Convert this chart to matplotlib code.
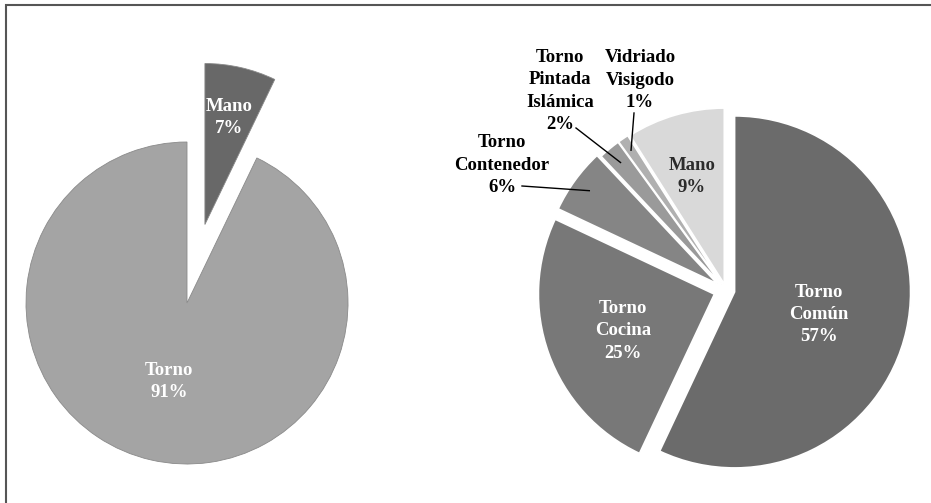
import numpy as np
import matplotlib
matplotlib.use("Agg")
import matplotlib.pyplot as plt
from matplotlib.patches import Rectangle

# left pie: forma de fabricación
left_labels = ["Mano", "Torno"]
left_pct = [7, 91]
left_colors = ["#686868", "#a4a4a4"]
left_explode = [0.5, 0.0]

# right pie: grupos cerámicos
right_labels = ["Torno\nComún", "Torno\nCocina", "Torno\nContenedor",
                "Torno\nPintada\nIslámica", "Vidriado\nVisigodo", "Mano"]
right_pct = [57, 25, 6, 2, 1, 9]
right_colors = ["#6b6b6b", "#787878", "#858585", "#9a9a9a", "#b0b0b0", "#d9d9d9"]
right_explode = [0.05, 0.07, 0.06, 0.04, 0.04, 0.035]

W, H = 931, 503
fig = plt.figure(figsize=(W / 100, H / 100), dpi=100)
ax = fig.add_axes([0, 0, 1, 1])

font = dict(family="Liberation Serif", fontweight="bold", fontsize=13.5,
            ha="center", va="center", linespacing=1.4)


def mid_dir(w):
    a = np.deg2rad((w.theta1 + w.theta2) / 2)
    return np.cos(a), np.sin(a)


# ---- left pie (explode given as fraction of radius)
lc, lr = (187, H - 303), 161
lw, _ = ax.pie(left_pct, colors=left_colors,
               explode=[e * lr for e in left_explode],
               startangle=90, counterclock=False, center=lc, radius=lr,
               wedgeprops=dict(edgecolor="#8a8a8a", linewidth=0.6))
left_dist = [0.68, 0.5]
for w, lab, p, d, ex in zip(lw, left_labels, left_pct, left_dist, left_explode):
    dx, dy = mid_dir(w)
    r = lr * (d + ex)
    ax.text(lc[0] + dx * r, lc[1] + dy * r, f"{lab}\n{p}%", color="white", **font)

# ---- right pie
rc, rr = (726, H - 290), 176
rw, _ = ax.pie(right_pct, colors=right_colors,
               explode=[e * rr for e in right_explode],
               startangle=90, counterclock=False, center=rc, radius=rr,
               wedgeprops=dict(edgecolor="white", linewidth=1.2))

inside = {0: (0.49, "white"), 1: (0.55, "white"), 5: (0.66, "#2b2b2b")}
for i, (dist, col) in inside.items():
    w = rw[i]
    dx, dy = mid_dir(w)
    r = rr * (dist + right_explode[i])
    ax.text(rc[0] + dx * r, rc[1] + dy * r - 4, f"{right_labels[i]}\n{right_pct[i]}%",
            color=col, **font)

# outside labels with leader lines
outside = {2: ((502, H - 165), (522, H - 186), 0.9),
           3: ((560, H - 91), (576, H - 128), 0.9),
           4: ((640, H - 80), (634, H - 113), 0.92)}
for i, (tpos, lstart, rf) in outside.items():
    w = rw[i]
    dx, dy = mid_dir(w)
    r = rr * (rf + right_explode[i])
    ax.text(tpos[0], tpos[1], f"{right_labels[i]}\n{right_pct[i]}%",
            color="black", **font)
    ax.plot([lstart[0], rc[0] + dx * r], [lstart[1], rc[1] + dy * r],
            color="black", lw=1)

ax.set_xlim(0, W)
ax.set_ylim(0, H)
ax.set_aspect("equal")
ax.axis("off")

# outer frame
fig.patches.append(Rectangle((6 / W, -0.1), 1.2, (H - 5) / H + 0.1,
                             transform=fig.transFigure, fill=False,
                             edgecolor="#555555", linewidth=1.5))

fig.savefig("out.png", dpi=100, facecolor="white")
